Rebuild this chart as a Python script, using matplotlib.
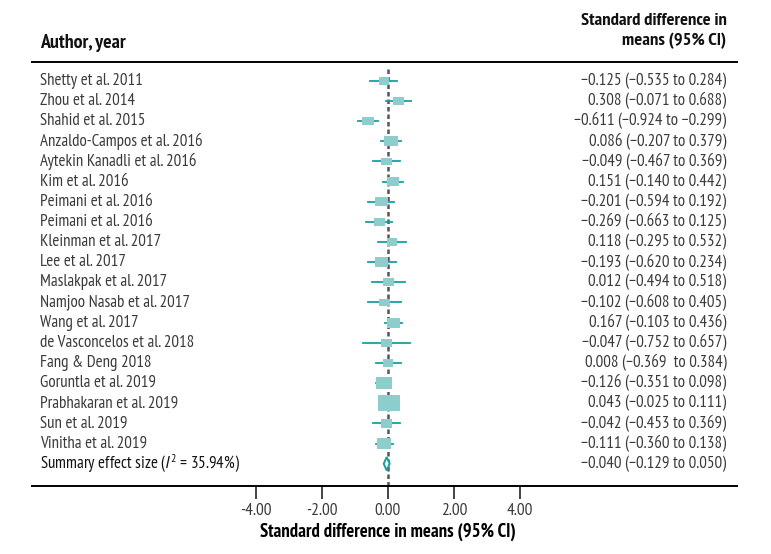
import matplotlib
matplotlib.use('Agg')
import matplotlib.pyplot as plt
from matplotlib.patches import Rectangle, Polygon
import numpy as np

studies = ['Shetty et al. 2011', 'Zhou et al. 2014', 'Shahid et al. 2015',
           'Anzaldo-Campos et al. 2016', 'Aytekin Kanadli et al. 2016', 'Kim et al. 2016',
           'Peimani et al. 2016', 'Peimani et al. 2016', 'Kleinman et al. 2017',
           'Lee et al. 2017', 'Maslakpak et al. 2017', 'Namjoo Nasab et al. 2017',
           'Wang et al. 2017', 'de Vasconcelos et al. 2018', 'Fang & Deng 2018',
           'Goruntla et al. 2019', 'Prabhakaran et al. 2019', 'Sun et al. 2019',
           'Vinitha et al. 2019']
est = [-0.125, 0.308, -0.611, 0.086, -0.049, 0.151, -0.201, -0.269, 0.118, -0.193,
       0.012, -0.102, 0.167, -0.047, 0.008, -0.126, 0.043, -0.042, -0.111]
lo = [-0.535, -0.071, -0.924, -0.207, -0.467, -0.140, -0.594, -0.663, -0.295, -0.620,
      -0.494, -0.608, -0.103, -0.752, -0.369, -0.351, -0.025, -0.453, -0.360]
hi = [0.284, 0.688, -0.299, 0.379, 0.369, 0.442, 0.192, 0.125, 0.532, 0.234,
      0.518, 0.405, 0.436, 0.657, 0.384, 0.098, 0.111, 0.369, 0.138]
# relative weights (%)
weights = [3.5, 4.0, 4.5, 6.5, 3.5, 4.8, 5.6, 4.0, 3.5, 5.3,
           3.5, 3.5, 5.9, 3.8, 3.3, 7.8, 16.1, 4.2, 6.5]
labels_right = ['−0.125 (−0.535 to 0.284)', '0.308 (−0.071 to 0.688)',
                '−0.611 (−0.924 to −0.299)', '0.086 (−0.207 to 0.379)',
                '−0.049 (−0.467 to 0.369)', '0.151 (−0.140 to 0.442)',
                '−0.201 (−0.594 to 0.192)', '−0.269 (−0.663 to 0.125)',
                '0.118 (−0.295 to 0.532)', '−0.193 (−0.620 to 0.234)',
                '0.012 (−0.494 to 0.518)', '−0.102 (−0.608 to 0.405)',
                '0.167 (−0.103 to 0.436)', '−0.047 (−0.752 to 0.657)',
                '0.008 (−0.369  to 0.384)', '−0.126 (−0.351 to 0.098)',
                '0.043 (−0.025 to 0.111)', '−0.042 (−0.453 to 0.369)',
                '−0.111 (−0.360 to 0.138)']
summary_est, summary_lo, summary_hi = -0.040, -0.129, 0.050
summary_label = r'Summary effect size ($\mathit{I}^2$ = 35.94%)'
summary_right = '−0.040 (−0.129 to 0.050)'
xticks = [-4, -2, 0, 2, 4]

font = ['PT Sans Narrow', 'Open Sans Condensed', 'Roboto Condensed', 'DejaVu Sans']
plt.rcParams['font.family'] = font
plt.rcParams['mathtext.fontset'] = 'custom'
plt.rcParams['mathtext.rm'] = 'PT Sans Narrow'
plt.rcParams['mathtext.it'] = 'PT Sans:italic'

W, H = 771, 554
L, R, T, B = 32, 737, 62.3, 486
fig = plt.figure(figsize=(W / 100, H / 100), dpi=100)
ax = fig.add_axes([L / W, (H - B) / H, (R - L) / W, (B - T) / H])

x0 = 388
ppu = 33.0
ax.set_xlim((L - x0) / ppu, (R - x0) / ppu)
row_px = 20.16
y_first = 80.7
ax.set_ylim((B - y_first) / row_px, (T - y_first) / row_px)

box_fc = '#8dcdcc'
line_c = '#17a0a0'
txt_c = '#3a3a3a'
fs = 12.2

ax.plot([0, 0], [-0.6, (B - y_first) / row_px], color='#555555', lw=1.8,
        ls=(0, (1.8, 1.2)), zorder=1)

n = len(studies)
tr = ax.get_yaxis_transform()
xl = (40 - L) / (R - L)
xr = (726.5 - L) / (R - L)
for i in range(n):
    ax.plot([lo[i], hi[i]], [i, i], color=line_c, lw=1.3, zorder=2)
    side = 5.49 * np.sqrt(weights[i])
    w = side / ppu
    h = side / 1.35 / row_px
    ax.add_patch(Rectangle((est[i] - w / 2, i - h / 2), w, h, facecolor=box_fc,
                           edgecolor='none', zorder=3))
    ax.text(xl, i, studies[i], transform=tr, ha='left', va='center',
            fontsize=fs, color=txt_c)
    ax.text(xr, i, labels_right[i], transform=tr, ha='right', va='center',
            fontsize=fs, color=txt_c)

ys = n
dh = 0.33
ax.add_patch(Polygon([[summary_lo, ys], [summary_est, ys - dh], [summary_hi, ys],
                      [summary_est, ys + dh]], closed=True, facecolor='white',
                     edgecolor=line_c, lw=1.4, zorder=3))
ax.text(xl, ys, summary_label, transform=tr, ha='left', va='center',
        fontsize=fs, color='#111111')
ax.text(xr, ys, summary_right, transform=tr, ha='right', va='center',
        fontsize=fs, color=txt_c)

for s in ['left', 'right']:
    ax.spines[s].set_visible(False)
ax.spines['top'].set_linewidth(1.4)
ax.spines['bottom'].set_linewidth(1.4)
ax.set_yticks([])
ax.set_xticks(xticks)
ax.set_xticklabels([f'{t:.2f}' for t in xticks], fontsize=12.5, color=txt_c)
ax.tick_params(axis='x', length=9, width=1.2, pad=3, color='#222222')
ax.set_xlabel('Standard difference in means (95% CI)', fontsize=13.4,
              fontweight='bold', va='top')
ax.xaxis.set_label_coords((x0 - L) / (R - L), -(522.5 - B) / (B - T))

fig.text(40 / W, 1 - 43 / H, 'Author, year', fontsize=14.3, fontweight='bold',
         ha='left', va='center', color='#111111')
fig.text(726.5 / W, 1 - 31.5 / H, 'Standard difference in\nmeans (95% CI)', fontsize=13.3,
         fontweight='bold', ha='right', va='center', linespacing=1.3, color='#111111')

fig.savefig('out.png', dpi=100)
